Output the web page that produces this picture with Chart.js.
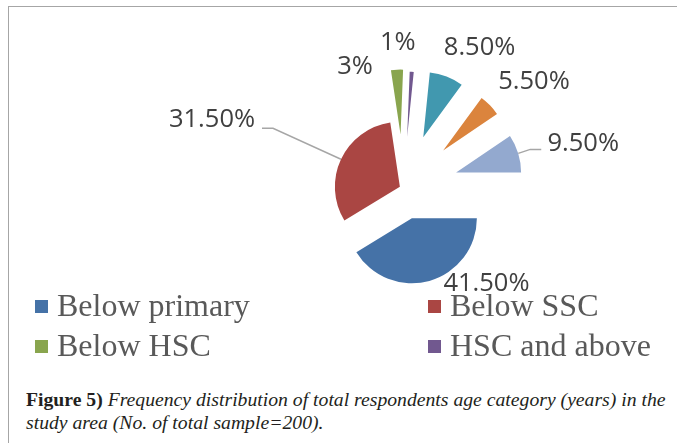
<!DOCTYPE html>
<html>
<head>
<meta charset="utf-8">
<script src="https://cdn.jsdelivr.net/npm/chart.js@4.4.1/dist/chart.umd.min.js"></script>
<style>
  body { margin: 0; background: #fff; width: 677px; height: 443px; overflow: hidden; position: relative; }
  #frame { position: absolute; left: 8px; top: 6px; right: -5px; bottom: -5px;
           border-left: 1px solid #a6a6a6; border-top: 1px solid #a6a6a6; }
  #pie { position: absolute; left: 0; top: 0; }
  #legend { position: absolute; left: 35px; top: 285px; width: 640px; height: 80px; overflow: hidden;
            display: grid; grid-template-columns: 393px 247px; grid-auto-rows: 40px;
            font-family: "Liberation Serif"; font-size: 32px; color: #595959; }
  .item { display: flex; align-items: center; white-space: nowrap; }
  .box { width: 13px; height: 13px; margin-right: 9px; margin-top: 3px; flex: none; }
  #caption { position: absolute; left: 26px; top: 388px; font-family: "Liberation Serif";
             font-size: 19.7px; line-height: 23px; color: #231f20; white-space: nowrap; }
  #caption i { font-style: italic; }
</style>
</head>
<body>
<div id="frame"></div>
<div id="wrap" style="position:absolute;left:0;top:0;width:677px;height:300px;">
  <canvas id="pie"></canvas>
</div>
<div id="legend"></div>
<div id="caption"><b>Figure 5)</b> <i>Frequency distribution of total respondents age category (years) in the<br>study area (No. of total sample=200).</i></div>
<script>
// education levels, in the order of the original series
const categories = ['Below primary', 'Below SSC', 'Below HSC', 'HSC and above', 'Category 5', 'Category 6', 'Category 7'];
const shares = [41.5, 31.5, 3, 1, 8.5, 5.5, 9.5];
const colors = ['#4572A7', '#AA4643', '#89A54E', '#71588F', '#4198AF', '#DB843D', '#93A9CF'];

// how far each slice is pulled out, and where its label sits
const explode = [31, 4, 54, 52, 55, 55, 55];
const labelShift = [[57, 3], [-129, -40], [-42, -3], [-14, -29], [33, -29], [44, -24], [65, -10]];
const leaders = { 1: [[-68, -31], [-79, -31]], 6: [[12, -4], [23, -4]] };

function fmt(v) {
    return Number.isInteger(v) ? v + '%' : v.toFixed(2) + '%';
}

const legend = document.getElementById('legend');
categories.forEach((name, i) => {
    legend.innerHTML += `<div class="item"><span class="box" style="background:${colors[i]}"></span>${name}</div>`;
});

const explodePlugin = {
    id: 'explode',
    afterDatasetsUpdate(chart) {
        chart.getDatasetMeta(0).data.forEach((arc, i) => {
            const mid = (arc.startAngle + arc.endAngle) / 2;
            arc.x += Math.cos(mid) * explode[i];
            arc.y += Math.sin(mid) * explode[i];
        });
    }
};

const labelPlugin = {
    id: 'sliceLabels',
    afterDatasetsDraw(chart) {
        const ctx = chart.ctx;
        ctx.save();
        ctx.font = '25.5px "Open Sans"';
        ctx.fillStyle = '#404040';
        ctx.textAlign = 'center';
        ctx.textBaseline = 'middle';
        chart.getDatasetMeta(0).data.forEach((arc, i) => {
            const mid = (arc.startAngle + arc.endAngle) / 2;
            const ex = arc.x + Math.cos(mid) * arc.outerRadius;
            const ey = arc.y + Math.sin(mid) * arc.outerRadius;
            if (leaders[i]) {
                ctx.strokeStyle = '#a6a6a6';
                ctx.lineWidth = 1.5;
                ctx.beginPath();
                ctx.moveTo(ex, ey);
                leaders[i].forEach(p => ctx.lineTo(ex + p[0], ey + p[1]));
                ctx.stroke();
            }
            ctx.fillText(fmt(shares[i]), ex + labelShift[i][0], ey + labelShift[i][1]);
        });
        ctx.restore();
    }
};

new Chart(document.getElementById('pie'), {
    type: 'pie',
    data: {
        labels: categories,
        datasets: [{
            data: shares,
            backgroundColor: colors,
            borderWidth: 0,
            radius: 65,
            rotation: 90
        }]
    },
    options: {
        responsive: true,
        maintainAspectRatio: false,
        animation: false,
        layout: { padding: { left: 130, top: 77, right: 0, bottom: 0 } },
        plugins: {
            legend: { display: false },
            tooltip: { enabled: false }
        }
    },
    plugins: [explodePlugin, labelPlugin]
});
</script>
</body>
</html>
